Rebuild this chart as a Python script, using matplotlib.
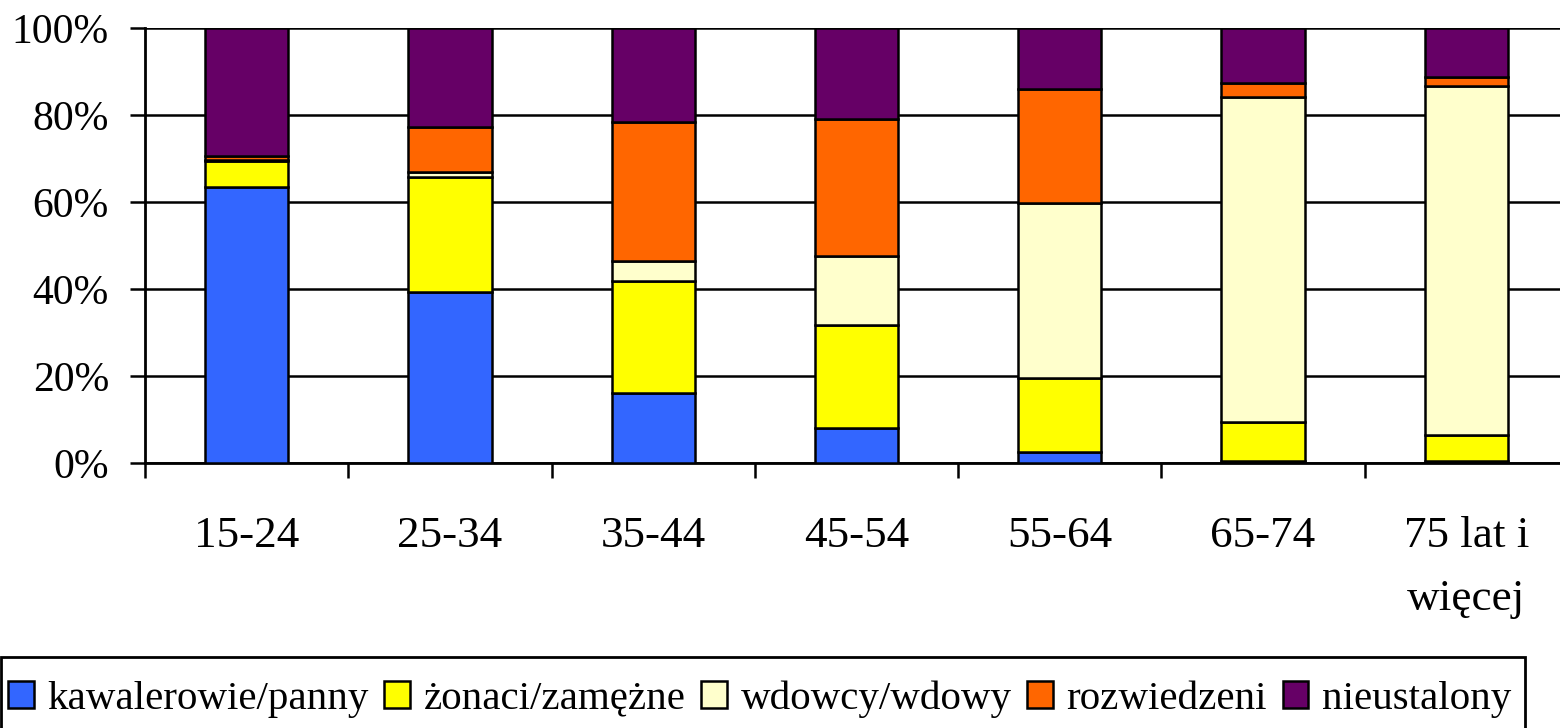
import numpy as np
import matplotlib.pyplot as plt
from matplotlib.patches import Rectangle

# age groups and shares (%)
groups = ["15-24", "25-34", "35-44", "45-54", "55-64", "65-74", "75 lat i\nwięcej"]
series = ["kawalerowie/panny", "żonaci/zamężne", "wdowcy/wdowy", "rozwiedzeni", "nieustalony"]
kawalerowie = [63.5, 39.4, 16.0, 8.0, 2.5, 0.5, 0.5]
zonaci = [5.9, 26.3, 25.9, 23.7, 17.0, 8.9, 5.9]
wdowcy = [0.3, 1.2, 4.6, 16.0, 40.3, 74.7, 80.3]
rozwiedzeni = [0.9, 10.3, 31.8, 31.3, 26.1, 3.2, 2.0]
nieustalony = [29.4, 22.8, 21.7, 21.0, 14.1, 12.7, 11.3]
colors = ["#3366FF", "#FFFF00", "#FFFFCC", "#FF6600", "#660066"]

plt.rcParams['font.family'] = ['Liberation Serif', 'DejaVu Serif']

W, H = 1560, 728
fig = plt.figure(figsize=(W / 100, H / 100), dpi=100)
ax = fig.add_axes([145 / W, 1 - 463 / H, (1568 - 145) / W, (463 - 28) / H])

x = np.arange(len(groups))
bottom = np.zeros(len(groups))
for name, vals, c in zip(series, [kawalerowie, zonaci, wdowcy, rozwiedzeni, nieustalony], colors):
    ax.bar(x, vals, width=0.41, bottom=bottom, color=c, edgecolor="black",
           linewidth=1.8, label=name, zorder=3)
    bottom += np.array(vals)

ax.set_xlim(-0.5, len(groups) - 0.5)
ax.set_ylim(0, 100)
ax.set_yticks(np.arange(0, 101, 20))
ax.set_yticklabels([f"{v}%" for v in range(0, 101, 20)], fontsize=30)
ax.yaxis.grid(True, color="black", linewidth=1.8, zorder=0)
ax.tick_params(axis="y", length=11, width=1.8, pad=15)

# category boundary ticks, labels in between
ax.set_xticks(np.arange(-0.5, len(groups) - 0.4, 1.0))
ax.set_xticklabels([])
ax.tick_params(axis="x", which="major", length=11, width=1.8)
ax.set_xticks(x, minor=True)
ax.set_xticklabels(groups, minor=True, fontsize=32.5, linespacing=1.75, va="top")
ax.tick_params(axis="x", which="minor", length=0, pad=38)

for s in ["top", "right"]:
    ax.spines[s].set_visible(False)
ax.spines["left"].set_linewidth(2)
ax.spines["bottom"].set_linewidth(2)

leg = fig.legend(loc="center left", bbox_to_anchor=(0.0, 1 - 699 / H), ncol=5,
                 fontsize=29.5, frameon=False, handlelength=0.63, handleheight=0.63,
                 handletextpad=0.33, columnspacing=0.38, borderpad=0.2, borderaxespad=0)

# legend box (bottom runs off the figure like in the source)
fig.canvas.draw()
bb = leg.get_window_extent()
fig.add_artist(Rectangle((1 / W, -0.05), (bb.x1 + 6) / W - 1 / W, 1 - 657 / H + 0.05,
                         transform=fig.transFigure, fill=False, edgecolor="black",
                         linewidth=2, clip_on=False))

fig.savefig("out.png", dpi=100)
